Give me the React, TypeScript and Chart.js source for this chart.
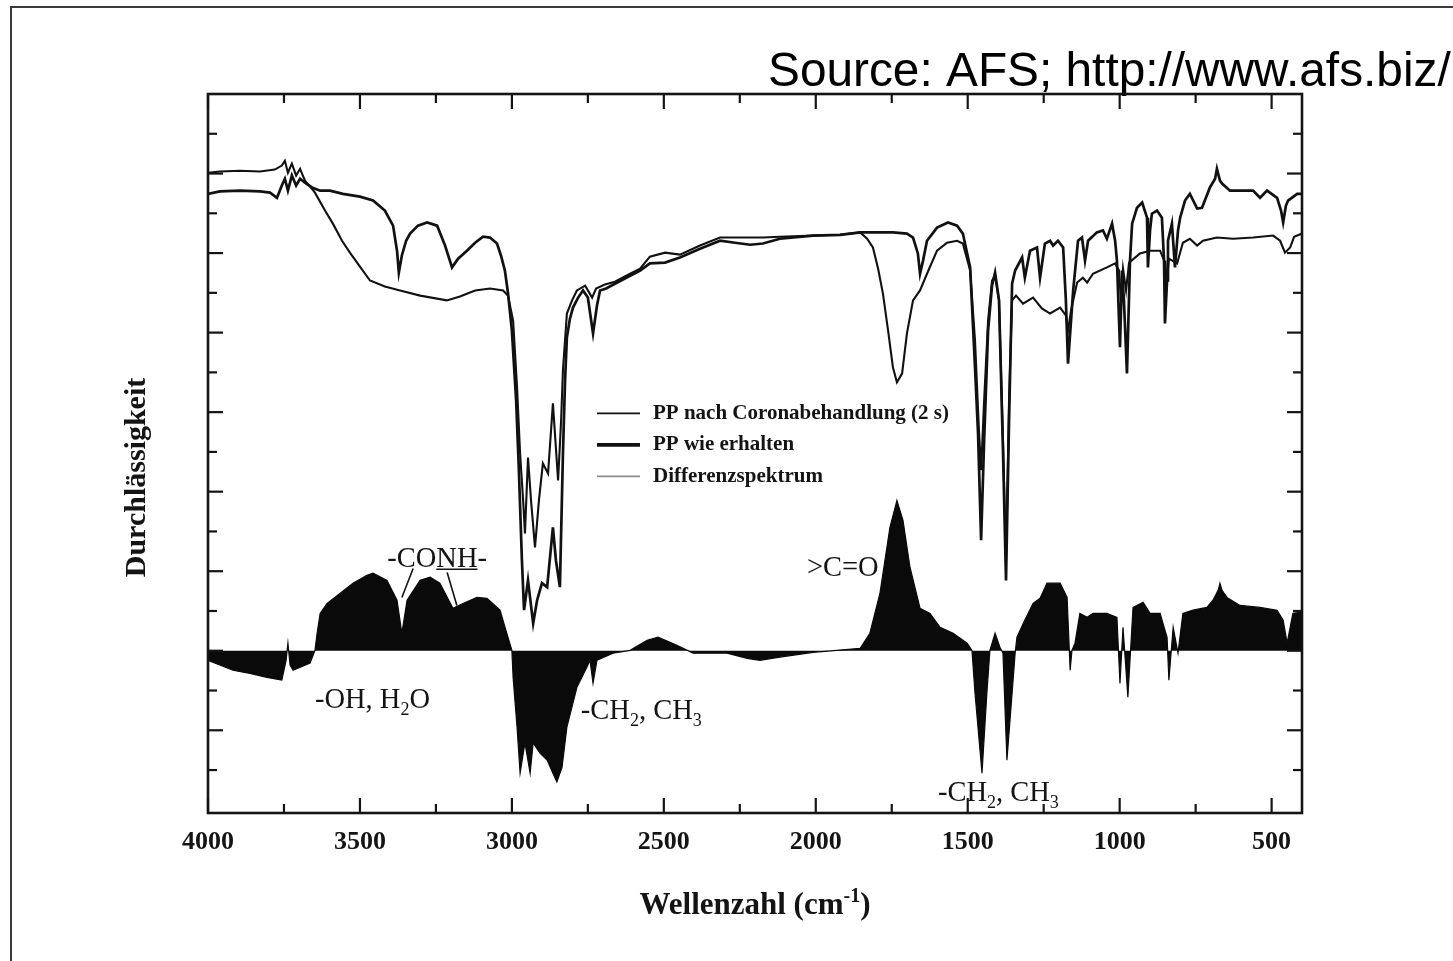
import React, { useEffect, useRef } from "react";
import { Chart, registerables } from "chart.js";

Chart.register(...registerables);

// ---------- data (wavenumber in cm^-1, transmission in arbitrary tick units) ----------
const seriesLabels = [
  "PP nach Coronabehandlung (2 s)",
  "PP wie erhalten",
  "Differenzspektrum",
];

const xLabelValues = [4000, 3500, 3000, 2500, 2000, 1500, 1000, 500];
const xMinorValues = [3750, 3250, 2750, 2250, 1750, 1250, 750];
const yMajorValues = [-2, 0, 2, 4, 6, 8, 10, 12];
const yMinorValues = [-3, -1, 1, 3, 5, 7, 9, 11, 13];

const treated: [number, number][] = [
  [4000, 12.02], [3961, 12.05], [3895, 12.07], [3829, 12.05], [3780, 12.1], [3757, 12.2], [3747, 12.32],
  [3737, 12.02], [3724, 12.25], [3710, 11.95], [3697, 12.12], [3681, 11.82], [3664, 11.67], [3648, 11.52],
  [3615, 11.07], [3589, 10.74], [3559, 10.31], [3533, 10.01], [3500, 9.66], [3467, 9.31], [3418, 9.16],
  [3368, 9.06], [3302, 8.93], [3214, 8.81], [3171, 8.91], [3121, 9.06], [3072, 9.11], [3029, 9.06],
  [3013, 8.93], [2996, 8.3], [2983, 6.62], [2973, 4.96], [2963, 3.78], [2957, 2.95], [2947, 4.86],
  [2937, 3.78], [2924, 2.6], [2911, 3.78], [2898, 4.71], [2881, 4.46], [2865, 6.22], [2848, 4.28],
  [2838, 5.79], [2832, 7.05], [2819, 8.48], [2802, 8.81], [2786, 9.06], [2759, 9.18], [2736, 8.88],
  [2723, 9.11], [2694, 9.21], [2661, 9.28], [2611, 9.48], [2578, 9.61], [2546, 9.91], [2496, 10.01],
  [2447, 9.96], [2381, 10.19], [2315, 10.39], [2249, 10.39], [2174, 10.39], [2118, 10.41], [2009, 10.44],
  [1920, 10.46], [1854, 10.52], [1831, 10.36], [1812, 10.14], [1795, 9.61], [1779, 8.98], [1762, 8.05],
  [1746, 7.12], [1733, 6.75], [1716, 6.97], [1700, 7.98], [1680, 8.81], [1657, 9.06], [1634, 9.48],
  [1601, 10.06], [1568, 10.26], [1535, 10.31], [1516, 10.24], [1492, 9.56], [1476, 7.8], [1463, 5.54],
  [1456, 4.54], [1446, 6.29], [1433, 8.3], [1420, 9.31], [1410, 9.43], [1397, 8.81], [1384, 5.29],
  [1374, 2.27], [1364, 6.29], [1354, 8.81], [1341, 8.93], [1318, 8.73], [1285, 8.88], [1256, 8.61],
  [1229, 8.48], [1196, 8.63], [1177, 8.43], [1170, 8.05], [1160, 8.56], [1140, 9.26], [1121, 9.38],
  [1107, 9.26], [1088, 9.48], [1042, 9.64], [1015, 9.74], [1002, 9.56], [996, 8.81], [989, 9.61],
  [979, 9.06], [969, 9.76], [933, 9.99], [900, 10.06], [867, 10.06], [851, 9.76], [844, 9.31],
  [838, 9.86], [811, 9.74], [792, 10.26], [769, 10.36], [745, 10.19], [726, 10.31], [680, 10.39],
  [627, 10.36], [561, 10.39], [495, 10.44], [472, 10.31], [456, 10.01], [439, 10.14], [426, 10.41],
  [400, 10.49],
];

const received: [number, number][] = [
  [4000, 11.49], [3961, 11.55], [3895, 11.57], [3829, 11.55], [3796, 11.52], [3773, 11.39], [3757, 11.7],
  [3747, 11.87], [3737, 11.57], [3724, 11.95], [3710, 11.7], [3697, 11.87], [3681, 11.77], [3658, 11.65],
  [3631, 11.57], [3599, 11.57], [3556, 11.49], [3500, 11.42], [3457, 11.32], [3418, 11.07], [3391, 10.69],
  [3378, 10.06], [3372, 9.51], [3362, 9.94], [3348, 10.31], [3335, 10.49], [3309, 10.69], [3279, 10.77],
  [3246, 10.69], [3220, 10.19], [3197, 9.64], [3177, 9.86], [3148, 10.06], [3121, 10.26], [3095, 10.41],
  [3072, 10.39], [3049, 10.24], [3036, 9.94], [3023, 9.56], [3013, 9.01], [3000, 8.05], [2986, 6.29],
  [2977, 4.54], [2967, 2.27], [2960, 1.02], [2947, 1.77], [2930, 0.69], [2917, 1.27], [2901, 1.7],
  [2884, 1.6], [2865, 3.1], [2855, 2.27], [2842, 1.6], [2832, 4.96], [2825, 6.8], [2819, 7.88],
  [2809, 8.35], [2799, 8.63], [2782, 8.88], [2766, 9.06], [2750, 8.88], [2733, 7.98], [2720, 8.68],
  [2710, 9.06], [2690, 9.11], [2661, 9.23], [2611, 9.43], [2578, 9.56], [2546, 9.74], [2496, 9.76],
  [2447, 9.89], [2381, 10.11], [2315, 10.31], [2266, 10.26], [2216, 10.21], [2174, 10.24], [2118, 10.36],
  [2009, 10.44], [1920, 10.46], [1854, 10.52], [1746, 10.52], [1700, 10.49], [1680, 10.39], [1664, 9.99],
  [1657, 9.48], [1647, 9.81], [1634, 10.31], [1601, 10.64], [1565, 10.77], [1535, 10.69], [1516, 10.49],
  [1492, 9.64], [1476, 7.12], [1466, 5.46], [1456, 2.78], [1446, 5.29], [1433, 8.05], [1420, 9.18],
  [1410, 9.51], [1397, 8.81], [1384, 5.04], [1374, 1.77], [1364, 5.79], [1354, 9.23], [1344, 9.56],
  [1321, 9.89], [1312, 9.38], [1295, 10.06], [1272, 10.14], [1262, 9.38], [1246, 10.24], [1229, 10.31],
  [1219, 10.19], [1203, 10.31], [1186, 10.14], [1177, 8.81], [1170, 7.22], [1160, 8.3], [1153, 9.06],
  [1137, 10.31], [1124, 10.39], [1114, 9.81], [1104, 10.31], [1075, 10.52], [1055, 10.57], [1042, 10.36],
  [1025, 10.74], [1015, 10.31], [1009, 9.81], [999, 7.63], [992, 9.56], [986, 8.81], [976, 6.97],
  [966, 9.81], [959, 10.74], [943, 11.14], [926, 11.27], [910, 10.89], [907, 9.64], [900, 10.57],
  [894, 10.99], [877, 11.07], [861, 10.89], [854, 9.81], [851, 8.23], [844, 9.31], [841, 10.31],
  [828, 10.74], [818, 9.64], [808, 10.57], [801, 10.89], [785, 11.32], [769, 11.49], [745, 11.12],
  [729, 11.14], [703, 11.65], [686, 11.87], [680, 12.12], [670, 11.82], [663, 11.75], [637, 11.57],
  [561, 11.57], [538, 11.39], [515, 11.57], [482, 11.39], [469, 11.07], [462, 10.77], [453, 11.19],
  [446, 11.32], [416, 11.49], [400, 11.49],
];

const difference: [number, number][] = [
  [4000, -0.24], [3918, -0.49], [3862, -0.57], [3806, -0.67], [3757, -0.74], [3743, -0.24], [3737, 0.19],
  [3730, -0.36], [3720, -0.49], [3664, -0.31], [3648, 0.01], [3641, 0.44], [3631, 0.94], [3608, 1.19],
  [3566, 1.44], [3523, 1.7], [3477, 1.9], [3457, 1.95], [3411, 1.77], [3378, 1.27], [3362, 0.44],
  [3345, 1.27], [3302, 1.77], [3269, 1.85], [3237, 1.7], [3194, 1.07], [3161, 1.19], [3115, 1.34],
  [3082, 1.32], [3039, 1.02], [3013, 0.34], [3000, 0.01], [2996, -0.67], [2983, -1.92], [2973, -3.08],
  [2957, -2.32], [2940, -3.08], [2930, -2.32], [2907, -2.58], [2884, -2.75], [2865, -3.08], [2852, -3.3],
  [2835, -2.93], [2819, -1.92], [2786, -0.92], [2753, -0.41], [2743, -0.24], [2733, -0.82], [2720, -0.24],
  [2667, -0.06], [2611, 0.01], [2555, 0.26], [2519, 0.34], [2457, 0.14], [2404, -0.06], [2292, -0.06],
  [2226, -0.19], [2184, -0.24], [2118, -0.16], [2009, -0.04], [1854, 0.06], [1822, 0.44], [1789, 1.44],
  [1756, 3.1], [1733, 3.78], [1713, 3.28], [1690, 2.1], [1657, 1.07], [1624, 0.94], [1591, 0.59],
  [1548, 0.44], [1502, 0.19], [1486, 0.01], [1476, -1.07], [1453, -3.08], [1437, -1.07], [1427, 0.01],
  [1410, 0.44], [1394, 0.09], [1384, -0.06], [1371, -2.75], [1354, -1.07], [1344, -0.06], [1338, 0.34],
  [1312, 0.77], [1285, 1.19], [1262, 1.32], [1239, 1.7], [1196, 1.7], [1173, 1.34], [1167, 0.26],
  [1163, -0.49], [1157, 0.01], [1147, 0.19], [1131, 0.94], [1107, 0.84], [1088, 0.94], [1042, 0.94],
  [1009, 0.84], [999, -0.82], [989, 0.59], [973, -1.17], [956, 1.09], [923, 1.22], [900, 0.94],
  [867, 0.94], [844, 0.34], [838, -0.74], [824, 0.59], [808, -0.06], [792, 0.94], [759, 1.02],
  [713, 1.09], [693, 1.27], [676, 1.52], [670, 1.7], [663, 1.52], [647, 1.34], [604, 1.14],
  [538, 1.09], [482, 1.02], [462, 0.77], [449, 0.19], [430, 0.94], [400, 0.97],
];

// ---------- text content ----------
const yTitle = "Durchlässigkeit";
const xTitleMain = "Wellenzahl (cm";
const xTitleSup = "-1";
const sourceText = "Source: AFS; http://www.afs.biz/";

type Part = { t: string; k?: "sub" | "sup" };
type Note = { parts: Part[]; x: number; y: number; align: "left" | "center" };

const notes: Note[] = [
  { parts: [{ t: "-CONH-" }], x: 3246, y: 2.1, align: "center" },
  { parts: [{ t: "-OH, H" }, { t: "2", k: "sub" }, { t: "O" }], x: 3648, y: -1.44, align: "left" },
  { parts: [{ t: "-CH" }, { t: "2", k: "sub" }, { t: ", CH" }, { t: "3", k: "sub" }], x: 2773, y: -1.72, align: "left" },
  { parts: [{ t: ">C=O" }], x: 2029, y: 1.87, align: "left" },
  { parts: [{ t: "-CH" }, { t: "2", k: "sub" }, { t: ", CH" }, { t: "3", k: "sub" }], x: 1598, y: -3.78, align: "left" },
];

// leader lines of the -CONH- label: [x1, y1, x2, y2] in data units
const conhLeaders: [number, number, number, number][] = [
  [3325, 2.07, 3362, 1.34],
  [3213, 1.97, 3181, 1.14],
];

const legendStyle = [
  { color: "#111", width: 1.6 },
  { color: "#111", width: 3.6 },
  { color: "#8c8c8c", width: 1.6 },
];

const SERIF = '"Liberation Serif", "Times New Roman", serif';
const INK = "#141414";
const NOTE_SIZE = 28.5;

function drawParts(
  ctx: CanvasRenderingContext2D,
  parts: Part[],
  x: number,
  y: number,
  size: number,
  weight: string,
  align: "left" | "center"
) {
  const base = `${weight} ${size}px ${SERIF}`;
  const small = `${weight} ${Math.round(size * 0.64)}px ${SERIF}`;
  let total = 0;
  const widths: number[] = [];
  for (const p of parts) {
    ctx.font = p.k ? small : base;
    const w = ctx.measureText(p.t).width;
    widths.push(w);
    total += w;
  }
  let cx = align === "center" ? x - total / 2 : x;
  const x0 = cx;
  ctx.textAlign = "left";
  ctx.textBaseline = "alphabetic";
  parts.forEach((p, i) => {
    ctx.font = p.k ? small : base;
    const dy = p.k === "sub" ? size * 0.24 : p.k === "sup" ? -size * 0.4 : 0;
    ctx.fillText(p.t, cx, y + dy);
    cx += widths[i];
  });
  return { left: x0, width: total };
}

const decorPlugin = {
  id: "decor",
  beforeDraw(chart: any) {
    const ctx: CanvasRenderingContext2D = chart.ctx;
    ctx.save();
    ctx.fillStyle = "#ffffff";
    ctx.fillRect(0, 0, chart.width, chart.height);
    // outer frame of the figure
    ctx.strokeStyle = "#3a3a3a";
    ctx.lineWidth = 2;
    ctx.beginPath();
    ctx.moveTo(11, chart.height);
    ctx.lineTo(11, 7);
    ctx.lineTo(chart.width, 7);
    ctx.stroke();
    // source line
    ctx.fillStyle = "#000";
    ctx.font = '47.8px "Liberation Sans", Arial, sans-serif';
    ctx.textAlign = "left";
    ctx.textBaseline = "alphabetic";
    ctx.fillText(sourceText, 768, 86);
    ctx.restore();
  },
  afterDatasetsDraw(chart: any) {
    const ctx: CanvasRenderingContext2D = chart.ctx;
    const xs = chart.scales.x;
    const ys = chart.scales.y;
    const { left, right, top, bottom } = chart.chartArea;
    ctx.save();
    ctx.strokeStyle = INK;
    ctx.fillStyle = INK;

    // plot frame
    ctx.lineWidth = 2.6;
    ctx.strokeRect(left, top, right - left, bottom - top);

    // inward ticks on all four sides
    ctx.lineWidth = 2.2;
    const seg = (x1: number, y1: number, x2: number, y2: number) => {
      ctx.beginPath();
      ctx.moveTo(x1, y1);
      ctx.lineTo(x2, y2);
      ctx.stroke();
    };
    const majorLen = 15;
    const minorLen = 9;
    xLabelValues.forEach((v) => {
      const p = xs.getPixelForValue(v);
      seg(p, bottom, p, bottom - majorLen);
      seg(p, top, p, top + majorLen);
    });
    xMinorValues.forEach((v) => {
      const p = xs.getPixelForValue(v);
      seg(p, bottom, p, bottom - minorLen);
      seg(p, top, p, top + minorLen);
    });
    yMajorValues.forEach((v) => {
      const p = ys.getPixelForValue(v);
      seg(left, p, left + majorLen, p);
      seg(right, p, right - majorLen, p);
    });
    yMinorValues.forEach((v) => {
      const p = ys.getPixelForValue(v);
      seg(left, p, left + minorLen, p);
      seg(right, p, right - minorLen, p);
    });

    // annotations
    notes.forEach((n, i) => {
      const px = xs.getPixelForValue(n.x);
      const py = ys.getPixelForValue(n.y);
      const box = drawParts(ctx, n.parts, px, py, NOTE_SIZE, "normal", n.align);
      if (i === 0) {
        // underline under "NH"
        ctx.font = `normal ${NOTE_SIZE}px ${SERIF}`;
        const wPre = ctx.measureText("-CO").width;
        const wNH = ctx.measureText("NH").width;
        ctx.lineWidth = 1.6;
        seg(box.left + wPre, py + 2, box.left + wPre + wNH, py + 2);
      }
    });
    ctx.lineWidth = 1.6;
    conhLeaders.forEach(([a, b, c, d]) => {
      seg(xs.getPixelForValue(a), ys.getPixelForValue(b), xs.getPixelForValue(c), ys.getPixelForValue(d));
    });

    // legend inside the plot
    const lx = xs.getPixelForValue(2720);
    const ly = ys.getPixelForValue(5.97);
    chart.data.datasets.forEach((ds: any, i: number) => {
      const yy = ly + i * 31.5;
      ctx.strokeStyle = legendStyle[i].color;
      ctx.lineWidth = legendStyle[i].width;
      seg(lx, yy, lx + 43, yy);
      ctx.fillStyle = INK;
      ctx.font = `bold 21px ${SERIF}`;
      ctx.textAlign = "left";
      ctx.textBaseline = "middle";
      ctx.fillText(ds.label, lx + 56, yy);
    });

    // axis titles
    ctx.fillStyle = INK;
    drawParts(
      ctx,
      [{ t: xTitleMain }, { t: xTitleSup, k: "sup" }, { t: ")" }],
      (left + right) / 2,
      bottom + 101,
      31,
      "bold",
      "center"
    );
    ctx.save();
    ctx.translate(left - 71, (top + bottom) / 2 + 24);
    ctx.rotate(-Math.PI / 2);
    ctx.font = `bold 30px ${SERIF}`;
    ctx.textAlign = "center";
    ctx.textBaseline = "middle";
    ctx.fillText(yTitle, 0, 0);
    ctx.restore();

    ctx.restore();
  },
};

export default function App() {
  const ref = useRef<HTMLCanvasElement | null>(null);

  useEffect(() => {
    const canvas = ref.current;
    if (!canvas) return;
    const toXY = (arr: [number, number][]) => arr.map(([x, y]) => ({ x, y }));
    const chart = new Chart(canvas, {
      type: "line",
      data: {
        datasets: [
          {
            label: seriesLabels[0],
            data: toXY(treated),
            borderColor: "#111",
            borderWidth: 2.1,
            pointRadius: 0,
            tension: 0,
            fill: false,
          },
          {
            label: seriesLabels[1],
            data: toXY(received),
            borderColor: "#111",
            borderWidth: 2.7,
            pointRadius: 0,
            tension: 0,
            fill: false,
          },
          {
            label: seriesLabels[2],
            data: toXY(difference),
            borderColor: "#0a0a0a",
            backgroundColor: "#0a0a0a",
            borderWidth: 1.2,
            pointRadius: 0,
            tension: 0,
            fill: "origin",
          },
        ],
      },
      options: {
        responsive: false,
        animation: false,
        devicePixelRatio: 1,
        layout: { padding: { left: 208, right: 151, top: 94, bottom: 0 } },
        plugins: {
          legend: { display: false },
          tooltip: { enabled: false },
        },
        events: [],
        scales: {
          x: {
            type: "linear",
            reverse: true,
            min: 400,
            max: 4000,
            grid: { display: false, drawTicks: false },
            border: { display: false },
            afterBuildTicks: (axis: any) => {
              axis.ticks = xLabelValues.map((v) => ({ value: v }));
            },
            afterFit: (scale: any) => {
              scale.height = 148;
            },
            ticks: {
              autoSkip: false,
              maxRotation: 0,
              padding: 14,
              color: INK,
              font: { family: SERIF, size: 26, weight: "bold" },
              callback: (v: any) => String(v),
            },
          },
          y: {
            type: "linear",
            display: false,
            min: -4.08,
            max: 14.0,
          },
        },
      },
      plugins: [decorPlugin],
    });
    return () => chart.destroy();
  }, []);

  return (
    <div style={{ position: "absolute", left: 0, top: 0, width: 1453, height: 961, background: "#fff" }}>
      <canvas ref={ref} width={1453} height={961} style={{ display: "block", width: 1453, height: 961 }} />
    </div>
  );
}
